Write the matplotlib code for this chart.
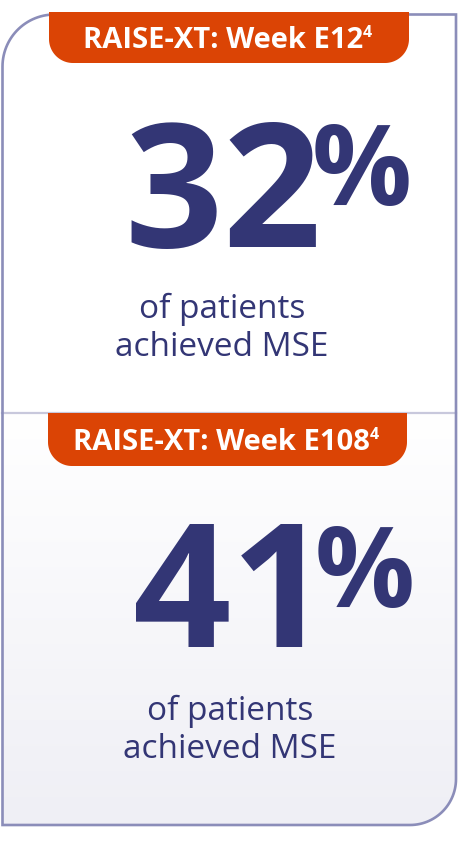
import numpy as np
import matplotlib
matplotlib.use("Agg")
import matplotlib.pyplot as plt
from matplotlib.path import Path
from matplotlib.patches import PathPatch

# ---- data ----
study = "RAISE-XT"
weeks = ["E12", "E108"]
percents = [32, 41]
ref_mark = "4"
caption_lines = ["of patients", "achieved MSE"]

NAVY = "#333675"
ORANGE = "#db4405"
BORDER = "#8b8db9"
DIVIDER = "#c8c8dc"

plt.rcParams["mathtext.fontset"] = "custom"
plt.rcParams["mathtext.rm"] = "Open Sans:bold"
plt.rcParams["mathtext.bf"] = "Open Sans:bold"
plt.rcParams["mathtext.it"] = "Open Sans:bold"

W, H = 460, 843
fig = plt.figure(figsize=(W / 100, H / 100), dpi=100)
ax = fig.add_axes([0, 0, 1, 1])
ax.set_xlim(0, W)
ax.set_ylim(H, 0)
ax.axis("off")


def rounded_path(x0, y0, x1, y1, r_tl=0, r_tr=0, r_br=0, r_bl=0, n=30):
    pts = []
    def arc(cx, cy, r, a0, a1):
        if r <= 0:
            return [(cx, cy)]
        t = np.linspace(np.radians(a0), np.radians(a1), n)
        return list(zip(cx + r * np.cos(t), cy + r * np.sin(t)))
    pts += arc(x0 + r_tl, y0 + r_tl, r_tl, 180, 270)
    pts += arc(x1 - r_tr, y0 + r_tr, r_tr, 270, 360)
    pts += arc(x1 - r_br, y1 - r_br, r_br, 0, 90)
    pts += arc(x0 + r_bl, y1 - r_bl, r_bl, 90, 180)
    pts.append(pts[0])
    codes = [Path.MOVETO] + [Path.LINETO] * (len(pts) - 2) + [Path.CLOSEPOLY]
    return Path(pts, codes)


# outer box
bx0, by0, bx1, by1 = 2.5, 14.5, 456, 825
mid_y = 413
box = rounded_path(bx0, by0, bx1, by1, r_tl=52, r_br=46)
ax.add_patch(PathPatch(box, facecolor="white", edgecolor="none", zorder=1))

# gradient in lower section
grad = np.linspace(0, 1, 256).reshape(-1, 1)
c_top = np.array([1.0, 1.0, 1.0])
c_bot = np.array([0.937, 0.937, 0.961])
img = c_top + (c_bot - c_top) * grad[..., None] * np.ones((1, 1, 3))
im = ax.imshow(img, extent=(bx0, bx1, by1, mid_y), aspect="auto", zorder=2,
               interpolation="bilinear")
im.set_clip_path(PathPatch(box, transform=ax.transData))

ax.add_patch(PathPatch(box, facecolor="none", edgecolor=BORDER, lw=1.9, zorder=5))
ax.plot([bx0, bx1], [mid_y, mid_y], color=DIVIDER, lw=1.6, zorder=4)

fig.canvas.draw()
renderer = fig.canvas.get_renderer()
inv = ax.transData.inverted()


def text_span(t):
    bb = t.get_window_extent(renderer=renderer)
    (xa, _), (xb, _) = inv.transform([[bb.x0, bb.y0], [bb.x1, bb.y1]])
    return xa, xb


sections = [
    dict(badge=(49, 12, 409, 63), label_y=48, num_x=124, num_y=247, pct_x=312, pct_y=205,
         cap_x=222, cap_y=[318, 356]),
    dict(badge=(48, 413, 407, 466), label_y=450, num_x=132, num_y=647, pct_x=315, pct_y=607,
         cap_x=230, cap_y=[720, 758]),
]

for sec, wk, pct in zip(sections, weeks, percents):
    x0, y0, x1, y1 = sec["badge"]
    ax.add_patch(PathPatch(rounded_path(x0, y0, x1, y1, r_br=24, r_bl=24),
                           facecolor=ORANGE, edgecolor="none", zorder=6))
    main = ax.text(0, sec["label_y"], f"{study}: Week {wk}", color="white",
                   fontsize=21, fontweight="bold", family="Open Sans",
                   ha="left", va="baseline", zorder=7)
    sup = ax.text(0, sec["label_y"] - 11, ref_mark, color="white",
                  fontsize=11.5, fontweight="bold", family="Open Sans",
                  ha="left", va="baseline", zorder=7)
    ma, mb = text_span(main)
    sa, sb = text_span(sup)
    wm, ws = mb - ma, sb - sa
    cx = (x0 + x1) / 2 - 1.5
    start = cx - (wm + ws) / 2
    main.set_x(start)
    sup.set_x(start + wm)

    # trailing negative space trims the tabular-figure side bearing
    ax.text(sec["num_x"], sec["num_y"], rf"$\mathrm{{{pct}}}\!$", color=NAVY,
            fontsize=124, ha="left", va="baseline", zorder=7)
    ax.text(sec["pct_x"], sec["pct_y"], "%", color=NAVY, fontsize=80,
            fontweight="bold", family="Open Sans", ha="left", va="baseline", zorder=7)
    for line, yy in zip(caption_lines, sec["cap_y"]):
        ax.text(sec["cap_x"], yy, line, color=NAVY, fontsize=24,
                family="Open Sans", ha="center", va="baseline", zorder=7)

fig.savefig("out.png", dpi=100, facecolor="white")
